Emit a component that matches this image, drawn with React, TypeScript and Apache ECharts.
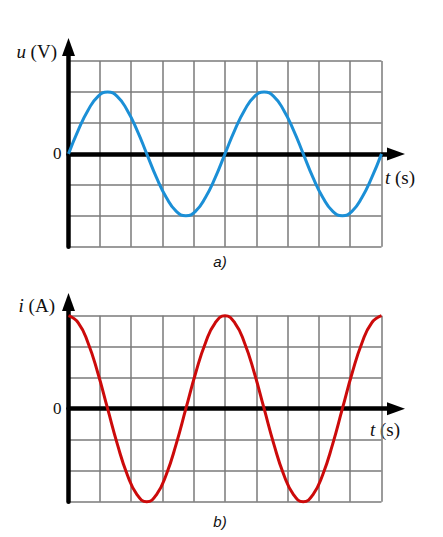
import React, { useEffect, useRef } from "react";
import * as echarts from "echarts";

// time samples (grid units)
const tValues = [
  0, 0.3125, 0.625, 0.9375, 1.25, 1.5625, 1.875, 2.1875, 2.5, 2.8125, 3.125, 3.4375, 3.75, 4.0625, 4.375, 4.6875,
  5, 5.3125, 5.625, 5.9375, 6.25, 6.5625, 6.875, 7.1875, 7.5, 7.8125, 8.125, 8.4375, 8.75, 9.0625, 9.375, 9.6875, 10,
];
// voltage u (grid units) – chart a)
const uValues = [
  0, 0.77, 1.41, 1.85, 2, 1.85, 1.41, 0.77, 0, -0.77, -1.41, -1.85, -2, -1.85, -1.41, -0.77,
  0, 0.77, 1.41, 1.85, 2, 1.85, 1.41, 0.77, 0, -0.77, -1.41, -1.85, -2, -1.85, -1.41, -0.77, 0,
];
// current i (grid units) – chart b)
const iValues = [
  3, 2.77, 2.12, 1.15, 0, -1.15, -2.12, -2.77, -3, -2.77, -2.12, -1.15, 0, 1.15, 2.12, 2.77,
  3, 2.77, 2.12, 1.15, 0, -1.15, -2.12, -2.77, -3, -2.77, -2.12, -1.15, 0, 1.15, 2.12, 2.77, 3,
];
const yTicks = { min: -3, max: 3, interval: 1 };
const xTicks = { min: 0, max: 10, interval: 1 };

const SERIF = "'Liberation Serif', 'DejaVu Serif', serif";
const GRID_COLOR = "#7a7a7a";

function dataX(gridIndex: number) {
  return {
    type: "value",
    gridIndex,
    min: xTicks.min,
    max: xTicks.max,
    interval: xTicks.interval,
    axisLine: { show: false },
    axisTick: { show: false },
    axisLabel: { show: false },
    splitLine: { show: true, lineStyle: { color: GRID_COLOR, width: 1.5 } },
  };
}
function dataY(gridIndex: number) {
  return {
    type: "value",
    gridIndex,
    min: yTicks.min,
    max: yTicks.max,
    interval: yTicks.interval,
    axisLine: { show: false },
    axisTick: { show: false },
    axisLabel: {
      show: true,
      margin: 7,
      color: "#111",
      fontFamily: SERIF,
      fontSize: 17,
      formatter: (v: number) => (v === 0 ? "0" : ""),
    },
    splitLine: { show: true, lineStyle: { color: GRID_COLOR, width: 1.5 } },
  };
}
function arrowAxis(gridIndex: number, max: number, isX: boolean) {
  return {
    type: "value",
    gridIndex,
    min: isX ? 0 : -3,
    max,
    axisLine: {
      show: true,
      onZero: true,
      lineStyle: { color: "#000", width: 4.5 },
      symbol: ["none", "triangle"],
      symbolSize: [13, 18],
      symbolOffset: [0, 9],
    },
    axisTick: { show: false },
    axisLabel: { show: false },
    splitLine: { show: false },
  };
}

export default function App() {
  const ref = useRef<HTMLDivElement>(null);
  useEffect(() => {
    document.body.style.margin = "0";
    const chart = echarts.init(ref.current!, undefined, { renderer: "svg" });
    const uData = tValues.map((t, k) => [t, uValues[k]]);
    const iData = tValues.map((t, k) => [t, iValues[k]]);
    chart.setOption({
      animation: false,
      backgroundColor: "#fff",
      grid: [
        { left: 68.5, top: 61, width: 313, height: 185.7 },
        { left: 68.5, top: 56, width: 318.5, height: 190.7 },
        { left: 68.5, top: 315.7, width: 313, height: 186 },
        { left: 68.5, top: 311, width: 318.5, height: 190.7 },
      ],
      xAxis: [dataX(0), arrowAxis(1, 10.18, true), dataX(2), arrowAxis(3, 10.18, true)],
      yAxis: [dataY(0), arrowAxis(1, 3.17, false), dataY(2), arrowAxis(3, 3.15, false)],
      series: [
        {
          type: "line",
          xAxisIndex: 0,
          yAxisIndex: 0,
          data: uData,
          smooth: true,
          symbol: "none",
          clip: false,
          z: 5,
          lineStyle: { color: "#1b8fd6", width: 3 },
        },
        {
          type: "line",
          xAxisIndex: 2,
          yAxisIndex: 2,
          data: iData,
          smooth: true,
          symbol: "none",
          clip: false,
          z: 5,
          lineStyle: { color: "#cc0a0a", width: 3 },
        },
      ],
      graphic: [
        {
          type: "text",
          x: 57,
          y: 51,
          style: {
            text: "{i|u} (V)",
            align: "right",
            verticalAlign: "middle",
            fontFamily: SERIF,
            fontSize: 19,
            fill: "#111",
            rich: { i: { fontStyle: "italic", fontFamily: SERIF, fontSize: 19 } },
          },
        },
        {
          type: "text",
          x: 385,
          y: 177,
          style: {
            text: "{i|t} (s)",
            align: "left",
            verticalAlign: "middle",
            fontFamily: SERIF,
            fontSize: 19,
            fill: "#111",
            rich: { i: { fontStyle: "italic", fontFamily: SERIF, fontSize: 19 } },
          },
        },
        {
          type: "text",
          x: 220,
          y: 261,
          style: {
            text: "a)",
            align: "center",
            verticalAlign: "middle",
            fontFamily: "'Liberation Sans', Arial, sans-serif",
            fontStyle: "italic",
            fontSize: 15,
            fill: "#111",
          },
        },
        {
          type: "text",
          x: 55,
          y: 305,
          style: {
            text: "{i|i} (A)",
            align: "right",
            verticalAlign: "middle",
            fontFamily: SERIF,
            fontSize: 19,
            fill: "#111",
            rich: { i: { fontStyle: "italic", fontFamily: SERIF, fontSize: 19 } },
          },
        },
        {
          type: "text",
          x: 370,
          y: 429,
          style: {
            text: "{i|t} (s)",
            align: "left",
            verticalAlign: "middle",
            fontFamily: SERIF,
            fontSize: 19,
            fill: "#111",
            rich: { i: { fontStyle: "italic", fontFamily: SERIF, fontSize: 19 } },
          },
        },
        {
          type: "text",
          x: 220,
          y: 521,
          style: {
            text: "b)",
            align: "center",
            verticalAlign: "middle",
            fontFamily: "'Liberation Sans', Arial, sans-serif",
            fontStyle: "italic",
            fontSize: 15,
            fill: "#111",
          },
        },
      ],
    });
    return () => chart.dispose();
  }, []);
  return <div ref={ref} style={{ width: 443, height: 537 }} />;
}
